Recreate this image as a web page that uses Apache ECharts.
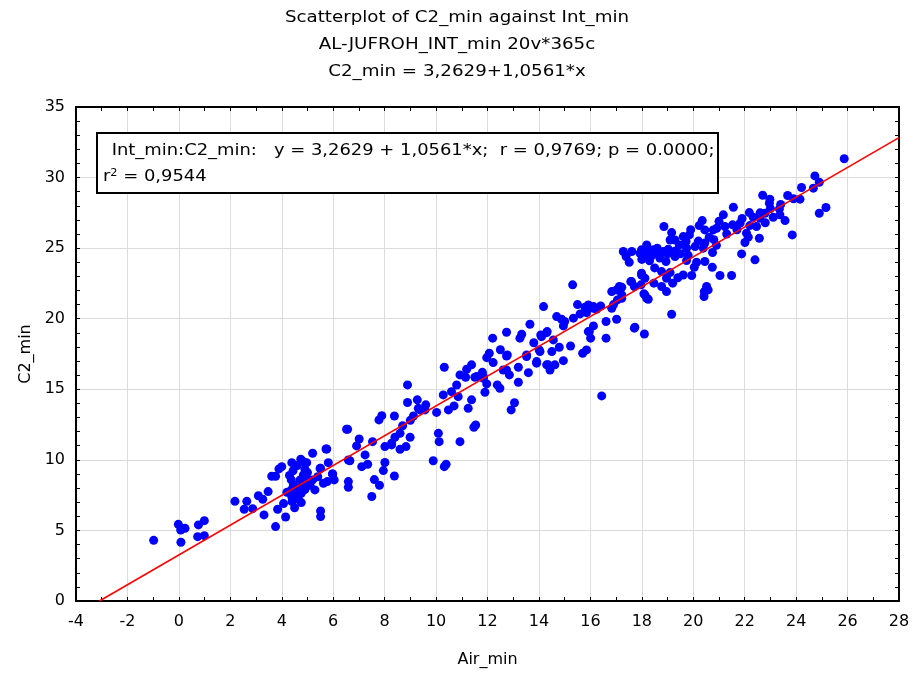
<!DOCTYPE html>
<html><head><meta charset="utf-8">
<script src="https://cdn.jsdelivr.net/npm/echarts@6/dist/echarts.min.js"></script>
<style>html,body{margin:0;padding:0;background:#fff}#c{width:913px;height:673px}</style>
</head><body><div id="c"></div>
<script>
// ---- data ----
const titleLines = ["Scatterplot of C2_min against Int_min", "AL-JUFROH_INT_min 20v*365c", "C2_min = 3,2629+1,0561*x"];
const xName = "Air_min";
const yName = "C2_min";
const regIntercept = 3.2629;
const regSlope = 1.0561;
const statLine1 = " Int_min:C2_min:   y = 3,2629 + 1,0561*x;  r = 0,9769; p = 0.0000;";
const statLine2 = "= 0,9544";
const xMin = -4, xMax = 28, xStep = 2;
const yMin = 0, yMax = 35, yStep = 5;

const airMin = [
-0.98,-0.02,0.07,0.24,0.08,0.76,0.99,0.73,0.99,2.18,2.64,2.54,2.87,3.09,3.26,3.47,3.31,3.76,3.84,4.07,4.15,3.61,3.76,3.89,4.00,4.39,4.44,4.37,4.45,4.37,4.39,4.40,4.61,4.76,4.76,4.74,4.97,4.90,4.84,4.71,5.03,5.20,5.20,5.29,5.51,5.51,5.51,5.72,5.81,5.62,5.77,5.98,6.04,6.52,6.59,6.59,6.59,
4.55,4.65,4.20,4.90,5.10,4.50,
14.18,14.69,13.65,12.74,12.20,13.26,13.33,14.07,14.30,14.56,14.01,14.50,13.91,14.36,13.59,13.52,13.20,12.77,12.07,11.97,12.22,12.74,12.85,13.20,12.38,12.48,11.84,11.97,11.90,13.05,12.92,11.38,11.19,10.93,11.15,11.51,10.32,10.28,10.60,10.86,10.70,10.48,11.38,11.25,10.02,11.47,11.54,10.09,10.12,10.93,9.89,10.39,10.32,8.89,8.89,9.27,9.31,9.57,9.12,8.38,7.89,7.78,8.70,8.60,8.40,8.27,8.99,8.83,8.60,8.01,7.53,7.01,6.91,7.24,7.34,6.65,6.56,8.01,7.95,8.38,7.11,5.75,5.49,5.97,4.84,
15.31,14.88,14.95,15.34,15.60,15.79,15.92,16.12,16.24,15.85,16.12,15.92,16.01,16.61,16.61,17.02,16.83,16.83,17.02,17.22,17.22,17.60,17.99,18.12,18.25,17.71,18.10,18.47,16.44,15.85,15.70,15.23,14.95,14.62,14.79,14.43,14.30,14.10,14.32,14.04,13.91,13.52,12.74,12.61,11.58,11.84,9.37,8.27,
25.87,24.73,24.90,24.67,25.16,24.90,24.21,24.15,23.67,23.85,22.70,22.98,22.96,23.35,23.37,23.57,23.11,22.79,22.59,22.18,22.33,22.46,22.57,22.07,22.14,22.01,21.88,22.40,21.56,21.17,21.82,21.53,21.23,20.91,20.78,20.35,20.23,20.45,20.62,20.45,20.39,20.75,20.45,20.74,21.04,21.49,20.52,20.58,20.43,20.42,18.86,19.16,19.10,19.29,19.61,19.85,19.72,19.46,20.07,19.74,19.03,18.19,17.99,18.25,18.45,18.64,18.38,18.16,17.93,18.84,17.28,17.61,17.39,17.51,18.94,19.29,19.74,20.13,20.04,19.61,19.94,19.10,18.77,18.96,18.77,19.20,18.96,19.16,17.99,18.12,17.97,17.57,17.71,17.13,17.22,17.05,18.08,18.19,17.73,15.96,16.12,
19.50,18.60,21.00,22.80,21.90,23.90,18.00,19.90,20.90,19.30,
7.50,7.80,7.60,
4.30,4.60,5.00,4.80,5.40,
9.00,9.60,10.80,11.80,12.50,13.80,15.00,15.50,16.40,16.90,
18.30,18.70,19.00,19.80,20.20,20.80,21.30,21.70,22.20,22.60,23.00,23.40,18.50,19.40
];
const c2Min = [
4.30,5.43,5.03,5.15,4.16,5.39,5.69,4.56,4.63,7.06,7.06,6.50,6.54,7.46,7.21,7.75,6.10,5.27,6.50,6.90,5.95,8.84,8.84,9.36,9.52,9.80,9.23,8.58,8.22,7.87,7.39,7.04,7.51,7.63,6.97,10.04,9.80,9.33,8.93,8.58,8.58,8.58,10.47,7.87,9.40,6.38,5.98,10.77,9.80,8.34,8.46,9.00,8.58,12.17,9.99,8.46,8.06,
8.00,7.20,7.70,7.90,8.20,6.60,
20.86,20.15,19.61,19.04,18.62,18.62,18.90,18.85,19.01,18.50,17.79,17.67,16.96,16.73,16.18,17.43,16.56,17.43,17.55,17.24,16.89,16.37,16.02,15.50,15.31,15.07,15.78,15.38,14.79,14.05,13.54,16.73,16.42,16.02,15.85,15.85,16.56,14.60,14.83,14.48,13.82,13.54,14.25,13.65,13.36,12.31,12.47,11.88,11.29,11.29,9.94,9.69,9.52,15.31,14.06,14.25,13.65,13.54,13.11,13.11,13.13,12.83,12.42,11.88,11.60,11.18,11.60,10.94,10.75,10.94,11.29,11.48,10.99,10.35,9.69,9.94,12.17,9.81,9.24,8.86,9.52,10.77,9.40,9.00,9.87,
22.40,19.96,19.49,20.04,20.34,20.81,20.98,20.86,20.67,20.43,19.49,19.09,18.62,18.62,19.80,19.96,20.74,21.92,22.04,22.23,21.45,22.63,23.22,21.69,21.38,19.33,18.92,22.52,14.53,17.79,17.55,18.07,17.03,16.73,17.98,16.37,16.73,18.73,19.09,17.67,16.85,17.32,17.36,16.37,15.90,15.90,13.54,11.06,
31.33,30.12,29.67,29.25,27.88,27.47,29.30,28.47,28.73,25.94,28.75,28.47,28.18,27.78,27.36,26.95,27.19,27.47,27.11,27.52,27.19,26.53,25.70,26.06,25.78,25.40,24.59,24.17,27.90,27.36,26.77,26.65,26.53,26.41,26.29,26.95,26.60,26.29,25.78,25.36,25.00,24.69,24.05,23.65,23.06,23.06,22.28,22.04,21.92,21.57,26.53,26.10,25.58,25.58,25.82,25.94,25.47,25.23,25.11,25.00,24.93,25.23,24.88,24.76,24.88,24.59,24.45,24.40,24.64,24.76,24.76,24.76,24.40,24.00,24.05,24.40,24.12,24.00,23.65,23.10,23.06,23.27,23.34,22.87,22.28,22.52,21.92,20.32,23.10,22.87,22.40,22.63,22.28,22.28,21.69,21.33,21.76,21.45,19.40,19.09,20.74,
24.60,25.00,26.90,26.80,27.10,28.50,24.20,26.30,25.20,24.80,
7.40,8.20,8.60,
8.90,9.60,9.10,8.20,8.80,
12.80,13.90,15.30,16.20,17.80,18.30,19.80,21.00,20.90,21.00,
24.10,24.30,24.60,24.50,25.50,25.60,26.00,26.30,26.60,27.50,27.80,28.10,23.60,22.90
];

// ---- chart ----
const FONT = "DejaVu Sans";
const points = airMin.map((x, i) => [x, c2Min[i]]);
const x0 = -regIntercept / regSlope;
const regLine = [[x0, regIntercept + regSlope * x0], [xMax, regIntercept + regSlope * xMax]];

const chart = echarts.init(document.getElementById('c'), null, {renderer: 'canvas'});
const axisBase = {
  axisLine: {show: true, onZero: false, lineStyle: {color: '#000', width: 2}},
  axisTick: {show: true, inside: true, length: 4, lineStyle: {color: '#000', width: 1}},
};
const titleGraphics = titleLines.map((t, i) => ({
  type: 'text', x: 457, y: 18 + i * 27, scaleX: 1.14, z: 100,
  style: {text: t, fontFamily: FONT, fontSize: 16, fill: '#000', textAlign: 'center', textVerticalAlign: 'middle', verticalAlign: 'middle'}
}));
chart.setOption({
  animation: false,
  backgroundColor: '#fff',
  grid: {left: 76, right: 14, top: 107, bottom: 72},
  xAxis: [
    Object.assign({}, axisBase, {
      type: 'value', min: xMin, max: xMax, interval: xStep, position: 'bottom',
      name: xName, nameLocation: 'middle', nameGap: 51,
      nameTextStyle: {fontFamily: FONT, fontSize: 16, color: '#000'},
      axisLabel: {fontFamily: FONT, fontSize: 16, color: '#000', margin: 13},
      minorTick: {show: true, splitNumber: 2, length: 4, lineStyle: {color: '#000'}},
      splitLine: {show: true, lineStyle: {color: '#dcdcdc', width: 1}}
    }),
    Object.assign({}, axisBase, {
      type: 'value', min: xMin, max: xMax, interval: xStep, position: 'top',
      axisLabel: {show: false},
      minorTick: {show: true, splitNumber: 2, length: 4, lineStyle: {color: '#000'}},
      splitLine: {show: false}
    })
  ],
  yAxis: [
    Object.assign({}, axisBase, {
      type: 'value', min: yMin, max: yMax, interval: yStep, position: 'left',
      name: yName, nameLocation: 'middle', nameGap: 35, nameRotate: 90,
      nameTextStyle: {fontFamily: FONT, fontSize: 16, color: '#000'},
      axisLabel: {fontFamily: FONT, fontSize: 16, color: '#000', margin: 11},
      minorTick: {show: true, splitNumber: 5, length: 4, lineStyle: {color: '#000'}},
      splitLine: {show: true, lineStyle: {color: '#dcdcdc', width: 1}}
    }),
    Object.assign({}, axisBase, {
      type: 'value', min: yMin, max: yMax, interval: yStep, position: 'right',
      axisLabel: {show: false},
      minorTick: {show: true, splitNumber: 5, length: 4, lineStyle: {color: '#000'}},
      splitLine: {show: false}
    })
  ],
  series: [
    {
      type: 'scatter', xAxisIndex: 0, yAxisIndex: 0, data: points,
      symbol: 'circle', symbolSize: 9,
      itemStyle: {color: '#0000ff', opacity: 1}, z: 3
    },
    {
      type: 'line', xAxisIndex: 0, yAxisIndex: 0, data: regLine,
      symbol: 'none', clip: true,
      lineStyle: {color: '#ff0000', width: 1.6}, z: 4
    }
  ],
  graphic: {
    elements: titleGraphics.concat([
      {type: 'rect', z: 100, zlevel: 0, shape: {x: 97, y: 133, width: 621, height: 60},
       style: {fill: '#fff', stroke: '#000', lineWidth: 2}},
      {type: 'text', z: 101, x: 106, y: 151, scaleX: 1.12,
       style: {text: statLine1, fontFamily: FONT, fontSize: 16, fill: '#000', verticalAlign: 'middle'}},
      {type: 'text', z: 101, x: 103, y: 177, scaleX: 1.12,
       style: {text: '{r|r}{s|2}{r| ' + statLine2 + '}', fontFamily: FONT, fontSize: 16, fill: '#000', verticalAlign: 'middle',
         rich: {r: {fontFamily: FONT, fontSize: 16, fill: '#000'}, s: {fontFamily: FONT, fontSize: 10, fill: '#000', verticalAlign: 'top', padding: [0,0,7,0]}}}}
    ])
  }
});
</script></body></html>
